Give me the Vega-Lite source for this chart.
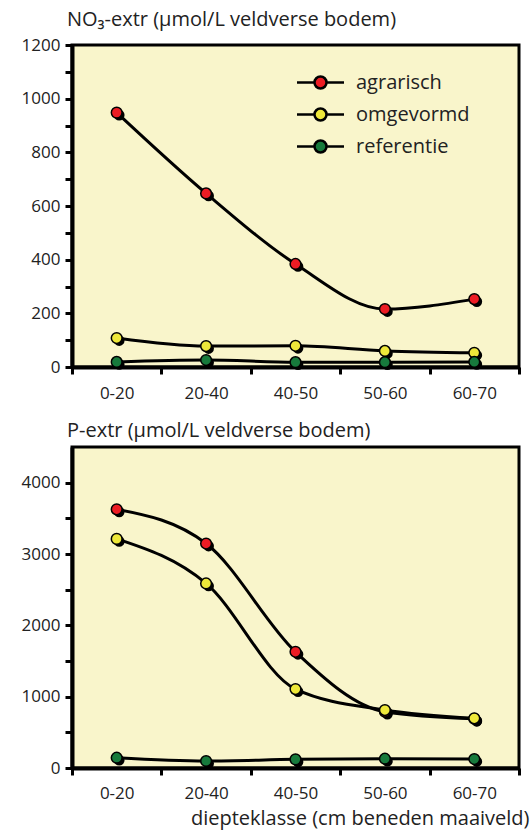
{
  "$schema": "https://vega.github.io/schema/vega-lite/v6.json",
  "padding": {"left": 0, "top": 8, "right": 0, "bottom": 0},
  "background": "white",
  "datasets": {
    "no3": [
      {"diepte": "0-20", "serie": "agrarisch", "waarde": 948},
      {"diepte": "20-40", "serie": "agrarisch", "waarde": 647},
      {"diepte": "40-50", "serie": "agrarisch", "waarde": 384},
      {"diepte": "50-60", "serie": "agrarisch", "waarde": 216},
      {"diepte": "60-70", "serie": "agrarisch", "waarde": 253},
      {"diepte": "0-20", "serie": "omgevormd", "waarde": 108},
      {"diepte": "20-40", "serie": "omgevormd", "waarde": 78},
      {"diepte": "40-50", "serie": "omgevormd", "waarde": 79},
      {"diepte": "50-60", "serie": "omgevormd", "waarde": 60},
      {"diepte": "60-70", "serie": "omgevormd", "waarde": 53},
      {"diepte": "0-20", "serie": "referentie", "waarde": 19},
      {"diepte": "20-40", "serie": "referentie", "waarde": 26},
      {"diepte": "40-50", "serie": "referentie", "waarde": 18},
      {"diepte": "50-60", "serie": "referentie", "waarde": 18},
      {"diepte": "60-70", "serie": "referentie", "waarde": 19}
    ],
    "p": [
      {"diepte": "0-20", "serie": "agrarisch", "waarde": 3626},
      {"diepte": "20-40", "serie": "agrarisch", "waarde": 3147},
      {"diepte": "40-50", "serie": "agrarisch", "waarde": 1629},
      {"diepte": "50-60", "serie": "agrarisch", "waarde": 790},
      {"diepte": "60-70", "serie": "agrarisch", "waarde": 690},
      {"diepte": "0-20", "serie": "omgevormd", "waarde": 3212},
      {"diepte": "20-40", "serie": "omgevormd", "waarde": 2587},
      {"diepte": "40-50", "serie": "omgevormd", "waarde": 1106},
      {"diepte": "50-60", "serie": "omgevormd", "waarde": 812},
      {"diepte": "60-70", "serie": "omgevormd", "waarde": 696},
      {"diepte": "0-20", "serie": "referentie", "waarde": 144},
      {"diepte": "20-40", "serie": "referentie", "waarde": 98},
      {"diepte": "40-50", "serie": "referentie", "waarde": 121},
      {"diepte": "50-60", "serie": "referentie", "waarde": 130},
      {"diepte": "60-70", "serie": "referentie", "waarde": 126}
    ]
  },
  "config": {
    "font": "Open Sans",
    "view": {"fill": "#f9f5cb", "stroke": "black", "strokeWidth": 3},
    "axis": {
      "domainColor": "black", "domainWidth": 4,
      "tickColor": "black", "tickWidth": 3, "tickSize": 7,
      "labelFont": "Open Sans", "labelFontSize": 17, "labelColor": "#222",
      "grid": false, "titleFont": "Open Sans"
    },
    "legend": {"padding": 0}
  },
  "bounds": "flush",
  "spacing": 80,
  "resolve": {"legend": {"fill": "independent"}},
  "vconcat": [
    {
      "width": 447,
      "height": 322,
      "title": {"text": "NO₃-extr (µmol/L veldverse bodem)", "anchor": "start", "frame": "group", "fontSize": 20, "fontWeight": "normal", "color": "#222", "dx": -5, "offset": 6, "font": "Open Sans"},
      "data": {"name": "no3"},
      "encoding": {
        "x": {"field": "diepte", "type": "nominal", "sort": ["0-20", "20-40", "40-50", "50-60", "60-70"],
          "scale": {"type": "band", "paddingInner": 0, "paddingOuter": 0},
          "axis": {"title": null, "labelAngle": 0, "tickBand": "extent", "labelPadding": 11}},
        "y": {"field": "waarde", "type": "quantitative", "scale": {"domain": [0, 1200], "nice": false},
          "axis": {"title": null, "format": "d", "values": [0, 100, 200, 300, 400, 500, 600, 700, 800, 900, 1000, 1100, 1200],
            "labelExpr": "datum.value % 200 === 0 ? datum.label : ''", "minExtent": 70, "maxExtent": 70, "labelPadding": 5}}
      },
      "layer": [
        {"mark": {"type": "line", "interpolate": "monotone", "color": "black", "strokeWidth": 3},
         "encoding": {"detail": {"field": "serie"}}},
        {"mark": {"type": "point", "filled": true, "color": "black", "size": 115, "opacity": 1, "xOffset": 2.5, "yOffset": 2.5},
         "encoding": {"detail": {"field": "serie"}}},
        {"mark": {"type": "point", "filled": true, "size": 115, "opacity": 1, "stroke": "black", "strokeWidth": 1.5},
         "encoding": {"fill": {"field": "serie", "type": "nominal",
           "scale": {"domain": ["agrarisch", "omgevormd", "referentie"], "range": ["#ec1c24", "#eee83a", "#177a3c"]},
           "legend": {"orient": "none", "legendX": 237, "legendY": 26, "title": null,
             "symbolType": "M-2.35,0L-0.6,0M0.6,0L2.35,0M0.6,0A0.6,0.6,0,1,1,-0.6,0A0.6,0.6,0,1,1,0.6,0Z",
             "symbolSize": 400, "symbolStrokeColor": "black", "symbolStrokeWidth": 2.5, "symbolOpacity": 1,
             "labelFontSize": 20, "labelFont": "Open Sans", "labelColor": "#222", "rowPadding": 9, "labelOffset": 24}}}}
      ]
    },
    {
      "width": 447,
      "height": 321,
      "title": {"text": "P-extr (µmol/L veldverse bodem)", "anchor": "start", "frame": "group", "fontSize": 20, "fontWeight": "normal", "color": "#222", "dx": -5, "offset": 6, "font": "Open Sans"},
      "data": {"name": "p"},
      "encoding": {
        "x": {"field": "diepte", "type": "nominal", "sort": ["0-20", "20-40", "40-50", "50-60", "60-70"],
          "scale": {"type": "band", "paddingInner": 0, "paddingOuter": 0},
          "axis": {"title": "diepteklasse (cm beneden maaiveld)", "labelAngle": 0, "tickBand": "extent", "labelPadding": 10,
            "titleX": 457, "titleAlign": "right", "titleFontSize": 20, "titleFontWeight": "normal", "titleColor": "#222", "titlePadding": 7}},
        "y": {"field": "waarde", "type": "quantitative", "scale": {"domain": [0, 4500], "nice": false},
          "axis": {"title": null, "format": "d", "values": [0, 500, 1000, 1500, 2000, 2500, 3000, 3500, 4000],
            "labelExpr": "datum.value % 1000 === 0 ? datum.label : ''", "minExtent": 70, "maxExtent": 70, "labelPadding": 5}}
      },
      "layer": [
        {"mark": {"type": "line", "interpolate": "monotone", "color": "black", "strokeWidth": 3},
         "encoding": {"detail": {"field": "serie"}}},
        {"mark": {"type": "point", "filled": true, "color": "black", "size": 115, "opacity": 1, "xOffset": 2.5, "yOffset": 2.5},
         "encoding": {"detail": {"field": "serie"}}},
        {"mark": {"type": "point", "filled": true, "size": 115, "opacity": 1, "stroke": "black", "strokeWidth": 1.5},
         "encoding": {"fill": {"field": "serie", "type": "nominal",
           "scale": {"domain": ["agrarisch", "omgevormd", "referentie"], "range": ["#ec1c24", "#eee83a", "#177a3c"]},
           "legend": null}}}
      ]
    }
  ]
}
